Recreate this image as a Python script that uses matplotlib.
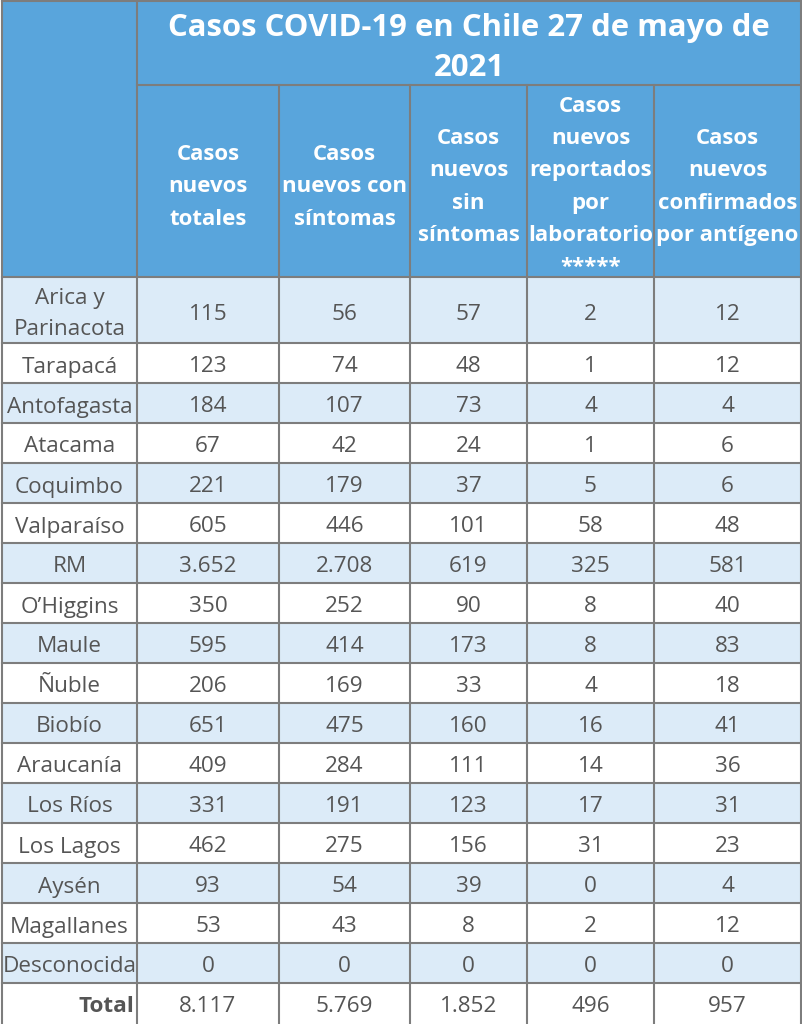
import matplotlib
matplotlib.use("Agg")
import matplotlib.pyplot as plt
from matplotlib.patches import Rectangle

plt.rcParams['font.family'] = ['Open Sans', 'DejaVu Sans']

title = "Casos COVID-19 en Chile 27 de mayo de\n2021"
headers = ["Casos\nnuevos\ntotales", "Casos\nnuevos con\nsíntomas", "Casos\nnuevos\nsin\nsíntomas",
           "Casos\nnuevos\nreportados\npor\nlaboratorio\n*****", "Casos\nnuevos\nconfirmados\npor antígeno"]
regions = ["Arica y\nParinacota", "Tarapacá", "Antofagasta", "Atacama", "Coquimbo", "Valparaíso", "RM",
           "O’Higgins", "Maule", "Ñuble", "Biobío", "Araucanía", "Los Ríos", "Los Lagos", "Aysén",
           "Magallanes", "Desconocida"]
totales = [115, 123, 184, 67, 221, 605, 3652, 350, 595, 206, 651, 409, 331, 462, 93, 53, 0]
con_sintomas = [56, 74, 107, 42, 179, 446, 2708, 252, 414, 169, 475, 284, 191, 275, 54, 43, 0]
sin_sintomas = [57, 48, 73, 24, 37, 101, 619, 90, 173, 33, 160, 111, 123, 156, 39, 8, 0]
laboratorio = [2, 1, 4, 1, 5, 58, 325, 8, 8, 4, 16, 14, 17, 31, 0, 2, 0]
antigeno = [12, 12, 4, 6, 6, 48, 581, 40, 83, 18, 41, 36, 31, 23, 4, 12, 0]
total_row = [8117, 5769, 1852, 496, 957]

BLUE = "#59a5dc"
LIGHT = "#dcebf8"
GRID = "#7d7d7d"
TXT = "#555555"

def fmt(v):
    return f"{v:,}".replace(",", ".")

W, H = 803, 1024
fig = plt.figure(figsize=(W / 100, H / 100), dpi=100)
ax = fig.add_axes([0, 0, 1, 1])
ax.set_xlim(0, W)
ax.set_ylim(H, 0)
ax.axis("off")

xs = [2, 137, 279, 410, 527, 654, 801]
y_title = 85
y_head = 277
y_first = 343
row_h = 40
dy = 4  # small downward nudge so glyphs sit centred like the reference

# header area
ax.add_patch(Rectangle((xs[0], 0), xs[-1] - xs[0], y_head, color=BLUE, lw=0))
ax.text((xs[1] + xs[-1]) / 2, 44 + dy, title, ha="center", va="center", color="white",
        fontsize=22.4, fontweight="bold", linespacing=1.42)
for i, h in enumerate(headers):
    ax.text((xs[i + 1] + xs[i + 2]) / 2, (y_title + y_head) / 2 + dy + 2, h, ha="center", va="center",
            color="white", fontsize=16, fontweight="bold", linespacing=1.7)

cols = [totales, con_sintomas, sin_sintomas, laboratorio, antigeno]
tops = [y_head] + [y_first + k * row_h for k in range(len(regions))]
for r, name in enumerate(regions):
    top = tops[r]
    bot = tops[r + 1]
    if r % 2 == 0:
        ax.add_patch(Rectangle((xs[0], top), xs[-1] - xs[0], bot - top, color=LIGHT, lw=0))
    cy = (top + bot) / 2 + dy
    ax.text((xs[0] + xs[1]) / 2, cy, name, ha="center", va="center", color=TXT,
            fontsize=16.2, linespacing=1.6)
    for c, col in enumerate(cols):
        ax.text((xs[c + 1] + xs[c + 2]) / 2, cy, fmt(col[r]), ha="center", va="center",
                color=TXT, fontsize=16.2)

# total row
ty = tops[-1] + 20 + dy
ax.text(xs[1] - 3, ty, "Total", ha="right", va="center", color=TXT, fontsize=16.2, fontweight="bold")
for c, v in enumerate(total_row):
    ax.text((xs[c + 1] + xs[c + 2]) / 2, ty, fmt(v), ha="center", va="center", color=TXT, fontsize=16.2)

# grid lines
lw = 1.5
ax.plot([xs[0], xs[-1]], [1, 1], color=GRID, lw=lw)
ax.plot([xs[1], xs[-1]], [y_title, y_title], color=GRID, lw=lw)
for y in tops:
    ax.plot([xs[0], xs[-1]], [y, y], color=GRID, lw=lw)
ax.plot([xs[0], xs[0]], [0, H], color=GRID, lw=lw)
ax.plot([xs[-1], xs[-1]], [0, H], color=GRID, lw=lw)
ax.plot([xs[1], xs[1]], [0, H], color=GRID, lw=lw)
for x in xs[2:-1]:
    ax.plot([x, x], [y_title, H], color=GRID, lw=lw)

fig.savefig("out.png", dpi=100)
